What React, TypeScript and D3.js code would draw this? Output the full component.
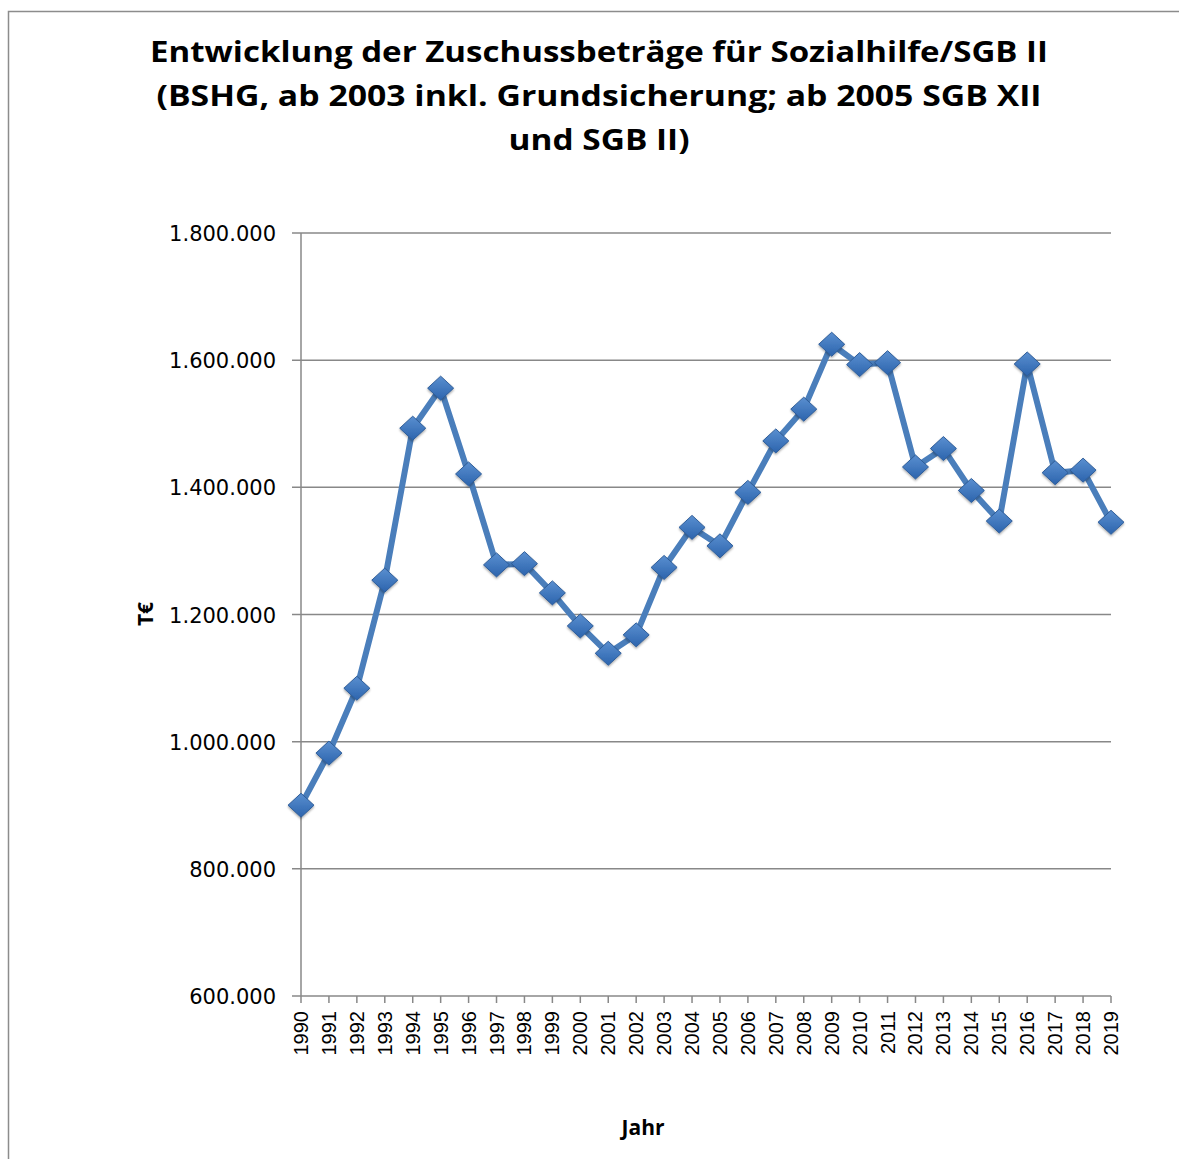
import React from "react";
import * as d3 from "d3";

const years = ["1990","1991","1992","1993","1994","1995","1996","1997","1998","1999","2000","2001","2002","2003","2004","2005","2006","2007","2008","2009","2010","2011","2012","2013","2014","2015","2016","2017","2018","2019"];
const values = [900000,982000,1084000,1254000,1493000,1556000,1421000,1278000,1280000,1234000,1182000,1139000,1168000,1274000,1337000,1308000,1392000,1473000,1523000,1625000,1593000,1596000,1432000,1461000,1395000,1347000,1594000,1423000,1427000,1345000];
const yTicks = [600000,800000,1000000,1200000,1400000,1600000,1800000];
const titleLines = ["Entwicklung der Zuschussbeträge für Sozialhilfe/SGB II","(BSHG, ab 2003 inkl. Grundsicherung; ab 2005 SGB XII","und SGB II)"];
const titleWidths = [898, 885, 181];

const W = 1179, H = 1159;
const left = 301, right = 1111, top = 233, bottom = 996;

const fmt = (v: number) => d3.format(",")(v).replace(/,/g, ".");

export default function App() {
  const x = d3.scalePoint<string>().domain(years).range([left, right]);
  const y = d3.scaleLinear().domain([600000, 1800000]).range([bottom, top]);
  const line = d3.line<number>().x((_, i) => x(years[i])!).y(d => y(d));
  const diamond = (cx: number, cy: number) => {
    const p = d3.path();
    const hw = 13, hh = 12;
    p.moveTo(cx, cy - hh); p.lineTo(cx + hw, cy); p.lineTo(cx, cy + hh); p.lineTo(cx - hw, cy); p.closePath();
    return p.toString();
  };
  return (
    <svg width={W} height={H} style={{ position: "absolute", left: 0, top: 0, background: "#fff" }}>
      <defs>
        <linearGradient id="mk" x1="0" y1="0" x2="0" y2="1">
          <stop offset="0" stopColor="#5a8fd0" />
          <stop offset="1" stopColor="#2c64ad" />
        </linearGradient>
        <filter id="sh" x="-50%" y="-50%" width="200%" height="200%">
          <feDropShadow dx="0" dy="1.5" stdDeviation="1.2" floodColor="#000" floodOpacity="0.35" />
        </filter>
      </defs>
      <rect x={8.5} y={11.5} width={W + 10} height={H + 10} fill="none" stroke="#8c8c8c" strokeWidth={1.5} />
      {titleLines.map((t, i) => (
        <text key={i} x={599} y={62 + i * 44} textAnchor="middle" textLength={titleWidths[i]} lengthAdjust="spacingAndGlyphs" fontFamily="'Open Sans', sans-serif" fontWeight={700} fontSize={29} fill="#000">{t}</text>
      ))}
      {yTicks.map(t => (
        <g key={t}>
          <line x1={292} x2={right} y1={y(t)} y2={y(t)} stroke="#888" strokeWidth={1.5} />
          <text x={276} y={y(t) + 8} textAnchor="end" fontFamily="'DejaVu Sans', sans-serif" fontSize={21} fill="#000">{fmt(t)}</text>
        </g>
      ))}
      <line x1={left} x2={left} y1={top} y2={bottom} stroke="#888" strokeWidth={1.5} />
      {years.map(yr => (
        <g key={yr}>
          <line x1={x(yr)} x2={x(yr)} y1={bottom} y2={bottom + 7} stroke="#888" strokeWidth={1.5} />
          <text transform={`translate(${x(yr)! + 7},${bottom + 15}) rotate(-90)`} textAnchor="end" fontFamily="'Liberation Sans', Arial, sans-serif" fontSize={20} fill="#000">{yr}</text>
        </g>
      ))}
      <text transform={`translate(153,614) rotate(-90)`} textAnchor="middle" fontFamily="'Open Sans', sans-serif" fontWeight={700} fontSize={21} fill="#000">T€</text>
      <text x={643} y={1135} textAnchor="middle" fontFamily="'Open Sans', sans-serif" fontWeight={700} fontSize={21} fill="#000">Jahr</text>
      <path d={line(values)!} fill="none" stroke="#4a7ebb" strokeWidth={6} strokeLinejoin="round" />
      {values.map((v, i) => (
        <path key={i} d={diamond(x(years[i])!, y(v))} fill="url(#mk)" stroke="#2e5d99" strokeWidth={1} filter="url(#sh)" />
      ))}
    </svg>
  );
}
